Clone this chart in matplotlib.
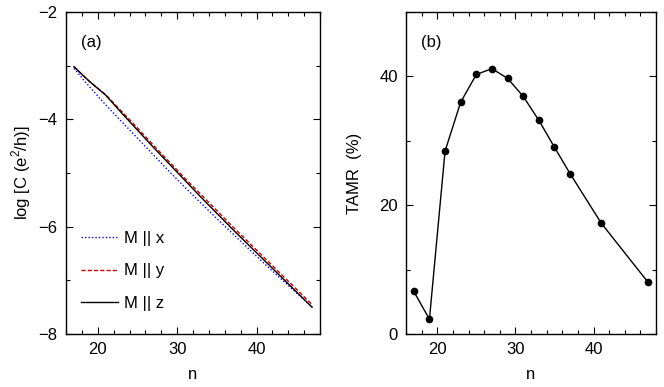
import matplotlib
matplotlib.use("Agg")
import matplotlib.pyplot as plt
from matplotlib.ticker import MultipleLocator

plt.rcParams['font.family'] = ['Liberation Sans', 'DejaVu Sans']
plt.rcParams['mathtext.fontset'] = 'custom'
plt.rcParams['mathtext.rm'] = 'Liberation Sans'

n_log = [17, 19, 21, 23, 25, 27, 29, 31, 33, 35, 37, 39, 41, 43, 45, 47]
logC_x = [-3.05, -3.40, -3.73, -4.04, -4.35, -4.66, -4.97, -5.27, -5.56, -5.85, -6.13, -6.41, -6.69, -6.96, -7.23, -7.50]
logC_y = [-3.02, -3.30, -3.54, -3.85, -4.16, -4.48, -4.79, -5.10, -5.40, -5.70, -6.00, -6.29, -6.58, -6.87, -7.16, -7.45]
logC_z = [-3.02, -3.30, -3.55, -3.88, -4.20, -4.52, -4.83, -5.14, -5.45, -5.75, -6.05, -6.34, -6.63, -6.92, -7.21, -7.50]

n_tamr = [17, 19, 21, 23, 25, 27, 29, 31, 33, 35, 37, 41, 47]
tamr = [6.6, 2.3, 28.4, 36.0, 40.3, 41.2, 39.7, 36.9, 33.2, 29.0, 24.9, 17.2, 8.0]

fig = plt.figure(figsize=(6.64, 3.87), dpi=100)
ax1 = fig.add_axes([66/664, 53/387, 254/664, 322/387])
ax2 = fig.add_axes([406/664, 53/387, 250/664, 322/387])

ax1.plot(n_log, logC_x, color='blue', ls=(0, (1, 1.5)), lw=1.0, label='M || x')
ax1.plot(n_log, logC_y, color='#cc0000', ls=(0, (3, 1.5)), lw=1.0, label='M || y')
ax1.plot(n_log, logC_z, color='black', ls='-', lw=1.0, label='M || z')
ax1.set_xlim(16, 48)
ax1.set_ylim(-8, -2)
ax1.xaxis.set_major_locator(MultipleLocator(10))
ax1.xaxis.set_minor_locator(MultipleLocator(2))
ax1.yaxis.set_major_locator(MultipleLocator(2))
ax1.yaxis.set_minor_locator(MultipleLocator(1))
ax1.set_xlabel('n', fontsize=12, labelpad=7)
ax1.set_ylabel('log [C (e$^2$/h)]', fontsize=12)
ax1.text(0.06, 0.89, '(a)', transform=ax1.transAxes, fontsize=12)
ax1.legend(loc='lower left', bbox_to_anchor=(0.0, 0.025), frameon=False, fontsize=12,
           handlelength=2.2, labelspacing=1.05, handletextpad=0.4)

ax2.plot(n_tamr, tamr, color='black', lw=1.0, marker='o', markersize=4.5)
ax2.set_xlim(16, 48)
ax2.set_ylim(0, 50)
ax2.xaxis.set_major_locator(MultipleLocator(10))
ax2.xaxis.set_minor_locator(MultipleLocator(2))
ax2.yaxis.set_major_locator(MultipleLocator(20))
ax2.yaxis.set_minor_locator(MultipleLocator(10))
ax2.set_xlabel('n', fontsize=12, labelpad=7)
ax2.set_ylabel('TAMR  (%)', fontsize=12, labelpad=12)
ax2.text(0.06, 0.89, '(b)', transform=ax2.transAxes, fontsize=12)

for ax in (ax1, ax2):
    ax.tick_params(which='both', direction='in', top=True, right=True, labelsize=12, width=0.8)
    ax.tick_params(which='major', length=5, pad=6)
    ax.tick_params(which='minor', length=3)
    for s in ax.spines.values():
        s.set_linewidth(1.0)

fig.savefig('out.png', dpi=100)
